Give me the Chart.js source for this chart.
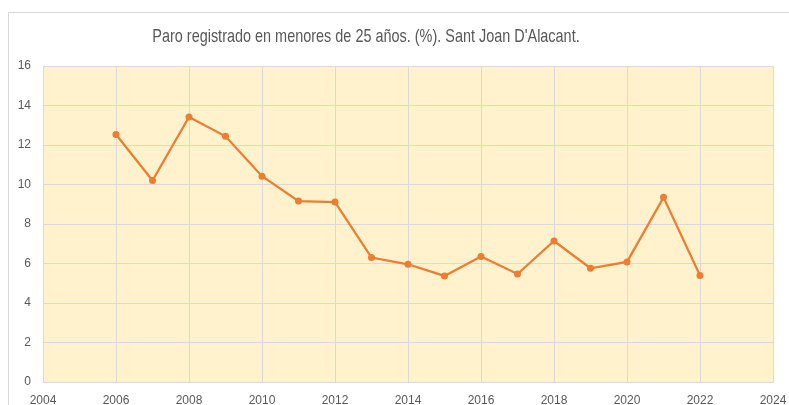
<!DOCTYPE html>
<html>
<head>
<meta charset="utf-8">
<script src="https://cdn.jsdelivr.net/npm/chart.js@4/dist/chart.umd.min.js"></script>
<style>
  html, body { margin: 0; padding: 0; background: #ffffff; }
  #wrap { position: relative; width: 789px; height: 405px; }
  #title {
    position: absolute; left: 66px; width: 600px; top: 25px;
    text-align: center; font-family: "Liberation Sans", sans-serif;
    font-size: 19px; color: #595959; white-space: nowrap;
    transform: scaleX(0.76); transform-origin: 50% 50%;
  }
</style>
</head>
<body>
<div id="wrap">
  <canvas id="c" width="789" height="405"></canvas>
  <div id="title">Paro registrado en menores de 25 años. (%). Sant Joan D'Alacant.</div>
</div>
<script>
const years = [2006, 2007, 2008, 2009, 2010, 2011, 2012, 2013, 2014, 2015, 2016, 2017, 2018, 2019, 2020, 2021, 2022];
const paroValues = [12.53, 10.2, 13.42, 12.44, 10.42, 9.16, 9.11, 6.3, 5.96, 5.37, 6.36, 5.47, 7.14, 5.76, 6.08, 9.35, 5.39];
const xTickRange = [2004, 2024];
const yTickRange = [0, 16];

const points = years.map((y, i) => ({ x: y, y: paroValues[i] }));

const bgPlugin = {
  id: 'bg',
  beforeDraw(chart) {
    const ctx = chart.ctx;
    const a = chart.chartArea;
    ctx.save();
    ctx.strokeStyle = '#d9d9d9';
    ctx.lineWidth = 1;
    ctx.strokeRect(8.5, 12.5, 800, 420);
    ctx.fillStyle = '#FFF2CC';
    ctx.fillRect(a.left, a.top, a.right - a.left, a.bottom - a.top);
    ctx.restore();
  }
};

new Chart(document.getElementById('c'), {
  type: 'line',
  data: {
    datasets: [{
      data: points,
      borderColor: '#ED7D31',
      backgroundColor: '#ED7D31',
      borderWidth: 2.25,
      pointRadius: 3.5,
      pointHoverRadius: 3.5,
      pointBorderWidth: 0,
      tension: 0,
      fill: false
    }]
  },
  options: {
    responsive: false,
    animation: false,
    devicePixelRatio: 1,
    layout: { padding: { left: 0, top: 66, right: 16, bottom: 0 } },
    plugins: { legend: { display: false }, tooltip: { enabled: false }, title: { display: false } },
    scales: {
      x: {
        type: 'linear',
        min: xTickRange[0], max: xTickRange[1],
        ticks: {
          stepSize: 2, color: '#595959', padding: 11,
          font: { family: 'Liberation Sans', size: 12 },
          callback: v => String(v),
          maxRotation: 0
        },
        grid: { color: '#d9d9d9', lineWidth: 1, drawTicks: false },
        border: { color: '#d9d9d9' },
        afterFit(s) { s.height = 23; s.paddingLeft = 0; s.paddingRight = 0; }
      },
      y: {
        min: yTickRange[0], max: yTickRange[1],
        ticks: {
          stepSize: 2, color: '#595959', padding: 12,
          font: { family: 'Liberation Sans', size: 12 }
        },
        grid: { color: '#d9d9d9', lineWidth: 1, drawTicks: false },
        border: { color: '#d9d9d9' },
        afterFit(s) { s.width = 43; s.paddingTop = 0; s.paddingBottom = 0; }
      }
    }
  },
  plugins: [bgPlugin]
});
</script>
</body>
</html>
